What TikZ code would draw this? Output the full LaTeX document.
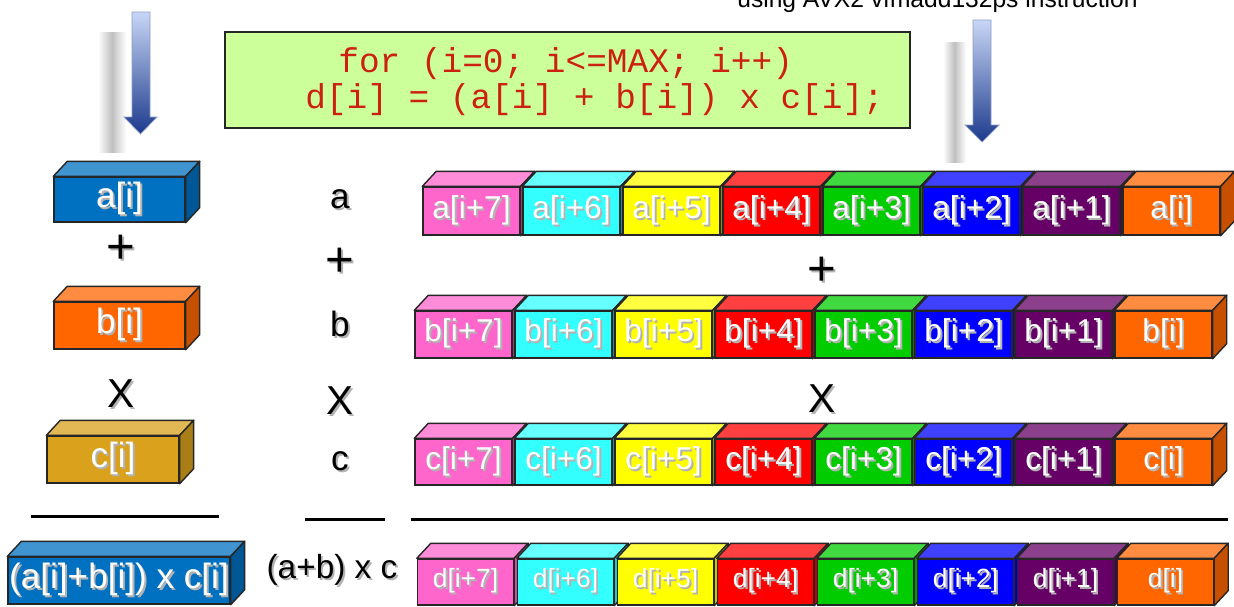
\documentclass[tikz,border=0pt]{standalone}
\usepackage{fontspec}
\setmainfont{Liberation Sans}
\newfontfamily\codefont{Liberation Mono}
\usetikzlibrary{calc,positioning}

\definecolor{cpink}{HTML}{FF66CC}
\definecolor{ccyan}{HTML}{33FFFF}
\definecolor{cyel}{HTML}{FFFF00}
\definecolor{cred}{HTML}{FF0000}
\definecolor{cgreen}{HTML}{00CC00}
\definecolor{cblue}{HTML}{0000FF}
\definecolor{cpurp}{HTML}{660066}
\definecolor{corange}{HTML}{FF6600}
\definecolor{boxblue}{HTML}{0070C0}
\definecolor{cgold}{HTML}{D9A11C}
\definecolor{codegreen}{HTML}{CCFF99}
\definecolor{codered}{HTML}{CC2010}
\definecolor{arrowtop}{HTML}{C8D6F6}
\definecolor{arrowbot}{HTML}{1C3A8C}

% text with a soft drop shadow
\newcommand{\shlbl}[1]{\makebox[0pt][l]{\kern1.1pt\raisebox{-1.1pt}{\color{black!30}#1}}#1}

% one 3D block: name, centre, width, height, colour, text
\newcommand{\slab}[6]{%
  \node[slabfront,fill=#5,minimum width=#3,minimum height=#4] (#1) at #2 {\shlbl{#6}};
  \draw[slabedge,fill=#5!75!white] (#1.north west) -- ++(14,-15)
    -- ($(#1.north east)+(14,-15)$) -- (#1.north east) -- cycle;
  \draw[slabedge,fill=#5!78!black] (#1.north east) -- ++(14,-15)
    -- ($(#1.south east)+(14,-15)$) -- (#1.south east) -- cycle;
}

\begin{document}
\begin{tikzpicture}[
  x=0.02cm, y=-0.02cm,
  lbl/.style ={font=\fontsize{20}{24}\selectfont,inner sep=0},
  opsym/.style={font=\fontsize{28}{30}\selectfont,inner sep=0},
  slabfront/.style={draw=black!85,line width=0.8pt,inner sep=0,text=white,
                    font=\fontsize{18}{22}\selectfont},
  slabedge/.style ={draw=black!85,line width=0.8pt,line join=round},
  rule/.style ={line width=1.7pt},
  codebox/.style={draw=black!85,line width=1.3pt,fill=codegreen,
                  minimum width=13.7cm,minimum height=1.92cm},
  codetext/.style={font=\codefont\fontsize{19.6}{23}\selectfont,text=codered,inner sep=0},
  flowarrow/.style={top color=arrowtop,bottom color=arrowbot,draw=arrowbot!50,line width=0.4pt},
  blur/.style={left color=white,right color=white,middle color=black!25},
]
\useasboundingbox (0,0) rectangle (1234,606);
\clip (0,0) rectangle (1234,606);

%% =============================================
%% Heading (cut by the top edge)
%% =============================================
\node[anchor=base west,inner sep=0,font=\fontsize{14}{17}\selectfont] (title) at (737,7)
  {using AVX2 vfmadd132ps instruction};

%% =============================================
%% Arrows with their shadows
%% =============================================
\shade[blur] (98,32) rectangle (126,152);
\shade[blur] (943,42) rectangle (966,162);
\shade[flowarrow] (132,12) -- (150,12) -- (150,117) -- (157,117) -- (140.5,134)
  -- (124,117) -- (132,117) -- cycle;
\shade[flowarrow] (973,20) -- (991,20) -- (991,125) -- (999,125) -- (982,142)
  -- (965,125) -- (973,125) -- cycle;

%% =============================================
%% Loop code
%% =============================================
\node[codebox] (code) at (567.5,80) {};
\node[codetext,anchor=base west] (loop) at (338,72) {for (i=0; i<=MAX; i++)};
\node[codetext,anchor=base west] (body) at (305,108) {d[i] = (a[i] + b[i]) x c[i];};

%% =============================================
%% Scalar column
%% =============================================
\begin{scope}[slabfront/.append style={font=\fontsize{20}{24}\selectfont}]
\slab{ai}{(119.5,199.5)}{2.62cm}{0.9cm}{boxblue}{a[i]}
\slab{bi}{(119.5,325.5)}{2.62cm}{0.94cm}{corange}{b[i]}
\slab{ci}{(113,459.5)}{2.64cm}{0.94cm}{cgold}{c[i]}
\slab{res}{(119,580.5)}{4.44cm}{0.94cm}{boxblue}{(a[i]+b[i]) x c[i]}
\end{scope}
\node[opsym] (lplus) at (121,250) {\shlbl{+}};
\node[lbl,font=\fontsize{23}{26}\selectfont] (ltimes) at (121,395) {\shlbl{X}};
\draw[rule] (31,516) -- (219,516);

%% =============================================
%% Middle column
%% =============================================
\node[lbl] (ma) at (340,200) {\shlbl{a}};
\node[opsym] (mplus) at (340,263) {\shlbl{+}};
\node[lbl] (mb) at (340,325) {\shlbl{b}};
\node[lbl,font=\fontsize{23}{26}\selectfont] (mtimes) at (340,402) {\shlbl{X}};
\node[lbl] (mc) at (340,462) {\shlbl{c}};
\draw[rule] (305,519) -- (385,519);
\node[lbl,font=\fontsize{19}{23}\selectfont] (mres) at (332,571) {\shlbl{(a+b) x c}};

%% =============================================
%% Vector rows
%% =============================================
\foreach \row/\xs/\yc/\bw/\rh/\fs in {a/423/211/1.94cm/0.96cm/18,
    b/415/334.5/1.94cm/0.94cm/18, c/415/462/1.94cm/0.92cm/18,
    d/417/582/1.92cm/0.92cm/15} {
  \tikzset{slabfront/.append style={font=\fontsize{\fs}{\fs}\selectfont}}
  \foreach \col [count=\k from 0] in {cpink,ccyan,cyel,cred,cgreen,cblue,cpurp,corange} {
    \pgfmathtruncatemacro\off{7-\k}
    \ifnum\off=0 \def\idx{i}\else\edef\idx{i+\off}\fi
    \slab{\row\off}{(\xs+100*\k+48.5,\yc)}{\bw}{\rh}{\col}{\row[\idx]}
  }
}
\node[opsym] (vplus) at (822,272) {\shlbl{+}};
\node[lbl,font=\fontsize{23}{26}\selectfont] (vtimes) at (822,400) {\shlbl{X}};
\draw[rule] (411,519) -- (1228,519);

\end{tikzpicture}
\end{document}
